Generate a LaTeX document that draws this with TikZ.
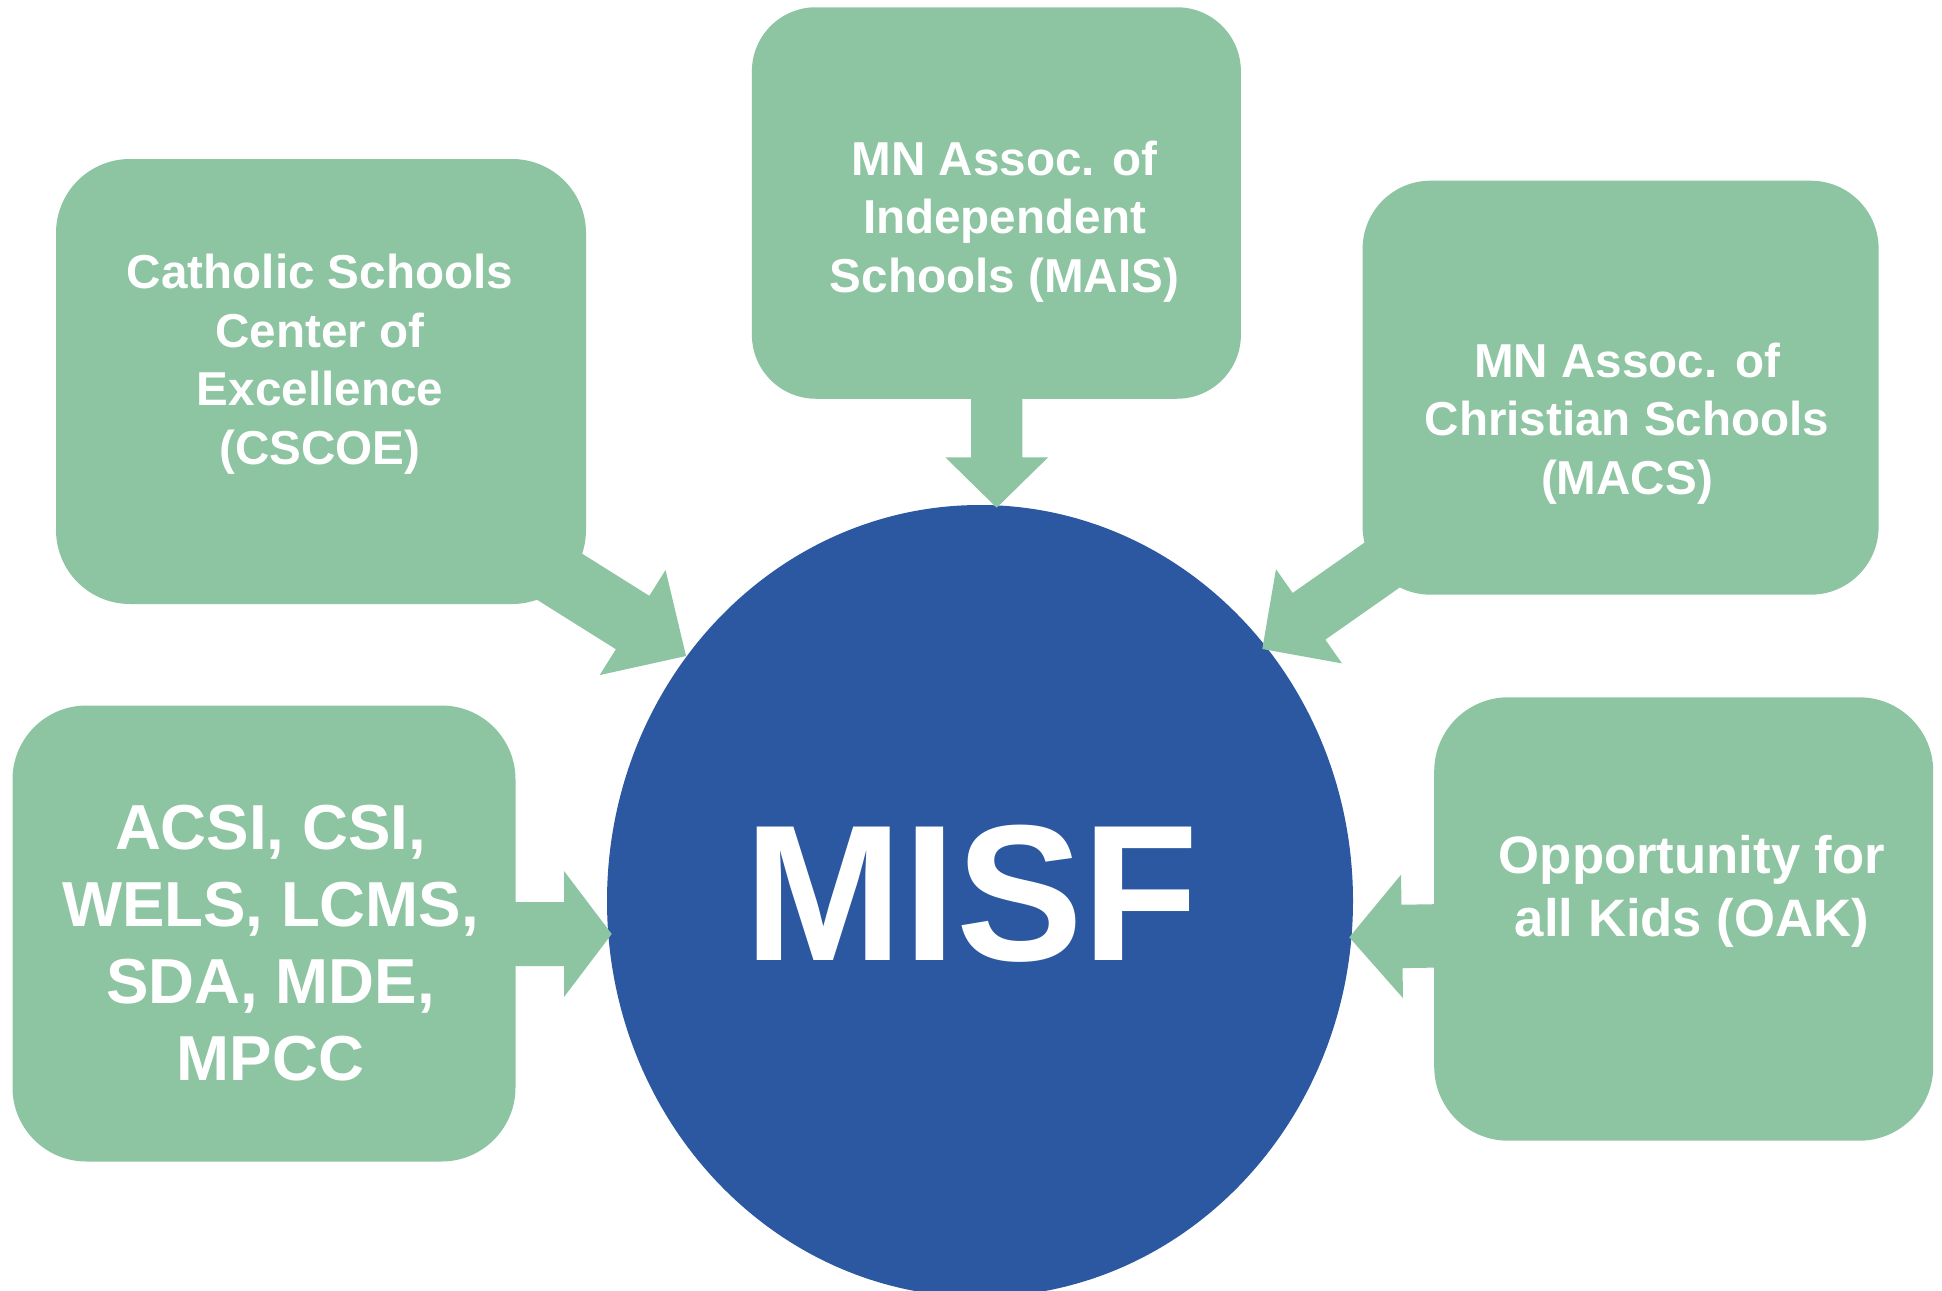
\documentclass[tikz,border=0pt]{standalone}
\usepackage{fontspec}
\setmainfont{Liberation Sans}
\usetikzlibrary{calc,shapes.geometric}
\definecolor{boxgreen}{RGB}{141,196,161}
\definecolor{misfblue}{RGB}{43,88,160}
% #1 start, #2 tip, #3 half shaft width, #4 half head width, #5 head length
\newcommand{\blockarrow}[5]{%
  \coordinate (hd) at ($(#2)!#5!(#1)$);
  \fill[boxgreen] ($(#1)!#3!90:(#2)$) -- ($(hd)!#3!90:(#2)$) -- ($(hd)!#4!90:(#2)$) -- (#2)
    -- ($(hd)!#4!-90:(#2)$) -- ($(hd)!#3!-90:(#2)$) -- ($(#1)!#3!-90:(#2)$) -- cycle;}
\begin{document}
\begin{tikzpicture}[x=0.5pt,y=-0.5pt,
  gbox/.style={rectangle, fill=boxgreen, draw=none, inner sep=0pt},
  gtext/.style={text=white, align=center, font=\bfseries\fontsize{23.8}{29.25}\selectfont, inner sep=0pt},
]
\useasboundingbox (0,0) rectangle (1942,1290);
\clip (0,0) rectangle (1942,1290);
\fill[white] (0,0) rectangle (1942,1290);

% central ellipse
\node[ellipse, fill=misfblue, draw=none, inner sep=0pt, minimum width=373pt, minimum height=396pt] (misf) at (980,901) {};

% arrow coordinates
\coordinate (s1) at (499.7,539.2);  \coordinate (e1) at (686,656);
\coordinate (s2) at (996.7,300);    \coordinate (e2) at (996.7,507.7);
\coordinate (s3) at (1442.5,522.7); \coordinate (e3) at (1262.3,649);
\coordinate (s4) at (400,934);      \coordinate (e4) at (611.7,934);
\coordinate (s5) at (1550,934);     \coordinate (e5) at (1349.3,937.3);

\blockarrow{s1}{e1}{15.75pt}{31pt}{31.5pt}
\blockarrow{s2}{e2}{12.8pt}{25.7pt}{25.2pt}
\blockarrow{s3}{e3}{14.25pt}{28.75pt}{28.5pt}
\blockarrow{s4}{e4}{16pt}{31.5pt}{23.85pt}
\blockarrow{s5}{e5}{15.85pt}{30.85pt}{26.35pt}

% boxes
\node[gbox, minimum width=265pt, minimum height=222.5pt, rounded corners=37pt] (cscoe) at (321,381.5) {};
\node[gbox, minimum width=244.5pt, minimum height=195.75pt, rounded corners=32pt] (mais) at (996.4,203) {};
\node[gbox, minimum width=258pt, minimum height=207pt, rounded corners=34pt] (macs) at (1620.6,387.7) {};
\node[gbox, minimum width=251.5pt, minimum height=228pt, rounded corners=37pt] (acsi) at (264,933.5) {};
\node[gbox, minimum width=249.5pt, minimum height=221.7pt, rounded corners=37pt] (oak) at (1683.7,919) {};

% texts
\node[gtext] (tcscoe) at (320,364.4) {Catholic Schools\\Center of\\Excellence\\(CSCOE)};
\node[gtext] (tmais) at (1004.5,221.3) {MN Assoc. of\\Independent\\Schools (MAIS)};
\node[gtext] (tmacs) at (1627,423.2) {MN Assoc. of\\Christian Schools\\(MACS)};
\node[gtext, font=\bfseries\fontsize{31.8}{38.5}\selectfont] (tacsi) at (270.5,943) {ACSI, CSI,\\WELS, LCMS,\\SDA, MDE,\\MPCC};
\node[gtext, font=\bfseries\fontsize{26.35}{31.5}\selectfont] (toak) at (1692,891.4) {Opportunity for\\all Kids (OAK)};
\node[text=white, inner sep=0pt, font=\bfseries\fontsize{97}{110}\selectfont] (tmisf) at (972,894) {\scalebox{0.98}[1]{MISF}};
\end{tikzpicture}
\end{document}
